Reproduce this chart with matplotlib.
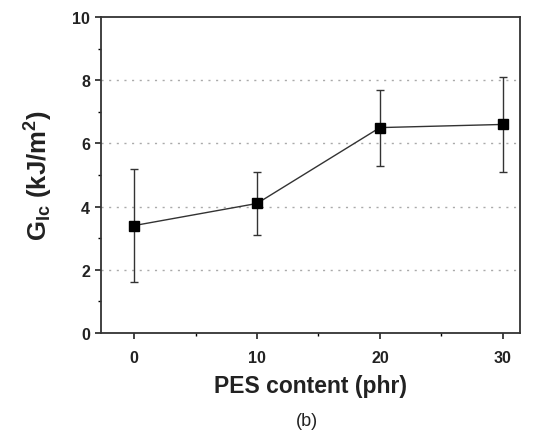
import matplotlib
matplotlib.use('Agg')
import matplotlib.pyplot as plt
from matplotlib.ticker import MultipleLocator

# data
pes_content = [0, 10, 20, 30]
g_ic = [3.4, 4.1, 6.5, 6.6]
err_low = [1.8, 1.0, 1.2, 1.5]
err_high = [1.8, 1.0, 1.2, 1.5]

plt.rcParams['font.family'] = ['Liberation Sans', 'DejaVu Sans']
plt.rcParams['mathtext.fontset'] = 'custom'
plt.rcParams['mathtext.rm'] = 'Liberation Sans:bold'
plt.rcParams['mathtext.bf'] = 'Liberation Sans:bold'
plt.rcParams['mathtext.it'] = 'Liberation Sans:bold'

fig = plt.figure(figsize=(5.36, 4.35), dpi=100)
ax = fig.add_axes([101 / 536, 1 - 334 / 435, 419 / 536, 316 / 435])

ax.errorbar(pes_content, g_ic, yerr=[err_low, err_high], color='#333333',
            linewidth=1.0, marker='s', markersize=7, markerfacecolor='black',
            markeredgecolor='black', ecolor='#333333', elinewidth=1.0,
            capsize=3, capthick=1.0, zorder=3)

for y in [2, 4, 6, 8]:
    ax.axhline(y, color='#aaaaaa', linestyle=(0, (1.5, 4)), linewidth=1.0, zorder=1)

ax.set_xlim(-2.7, 31.4)
ax.set_ylim(0, 10)
ax.xaxis.set_major_locator(MultipleLocator(10))
ax.xaxis.set_minor_locator(MultipleLocator(5))
ax.yaxis.set_major_locator(MultipleLocator(2))
ax.yaxis.set_minor_locator(MultipleLocator(1))
ax.tick_params(which='major', direction='out', length=4, width=1.2,
               labelsize=11.5, colors='#222222')
ax.tick_params(axis='x', which='major', pad=8)
ax.tick_params(axis='y', which='major', pad=4)
ax.tick_params(which='minor', direction='out', length=2.5, width=1.0)
for lab in ax.get_xticklabels() + ax.get_yticklabels():
    lab.set_fontweight('bold')
for s in ax.spines.values():
    s.set_linewidth(1.3)
    s.set_color('#333333')

ax.set_xlabel('PES content (phr)', fontsize=16.5, fontweight='bold',
              labelpad=7, color='#222222')
ax.set_ylabel(r'G$_{\rm Ic}$ (kJ/m$^2$)', fontsize=18.5, fontweight='bold',
              labelpad=12, color='#222222')
fig.text(307 / 536, 5 / 435, '(b)', ha='center', va='bottom',
         fontsize=13, color='#222222')

fig.savefig('out.png', dpi=100)
